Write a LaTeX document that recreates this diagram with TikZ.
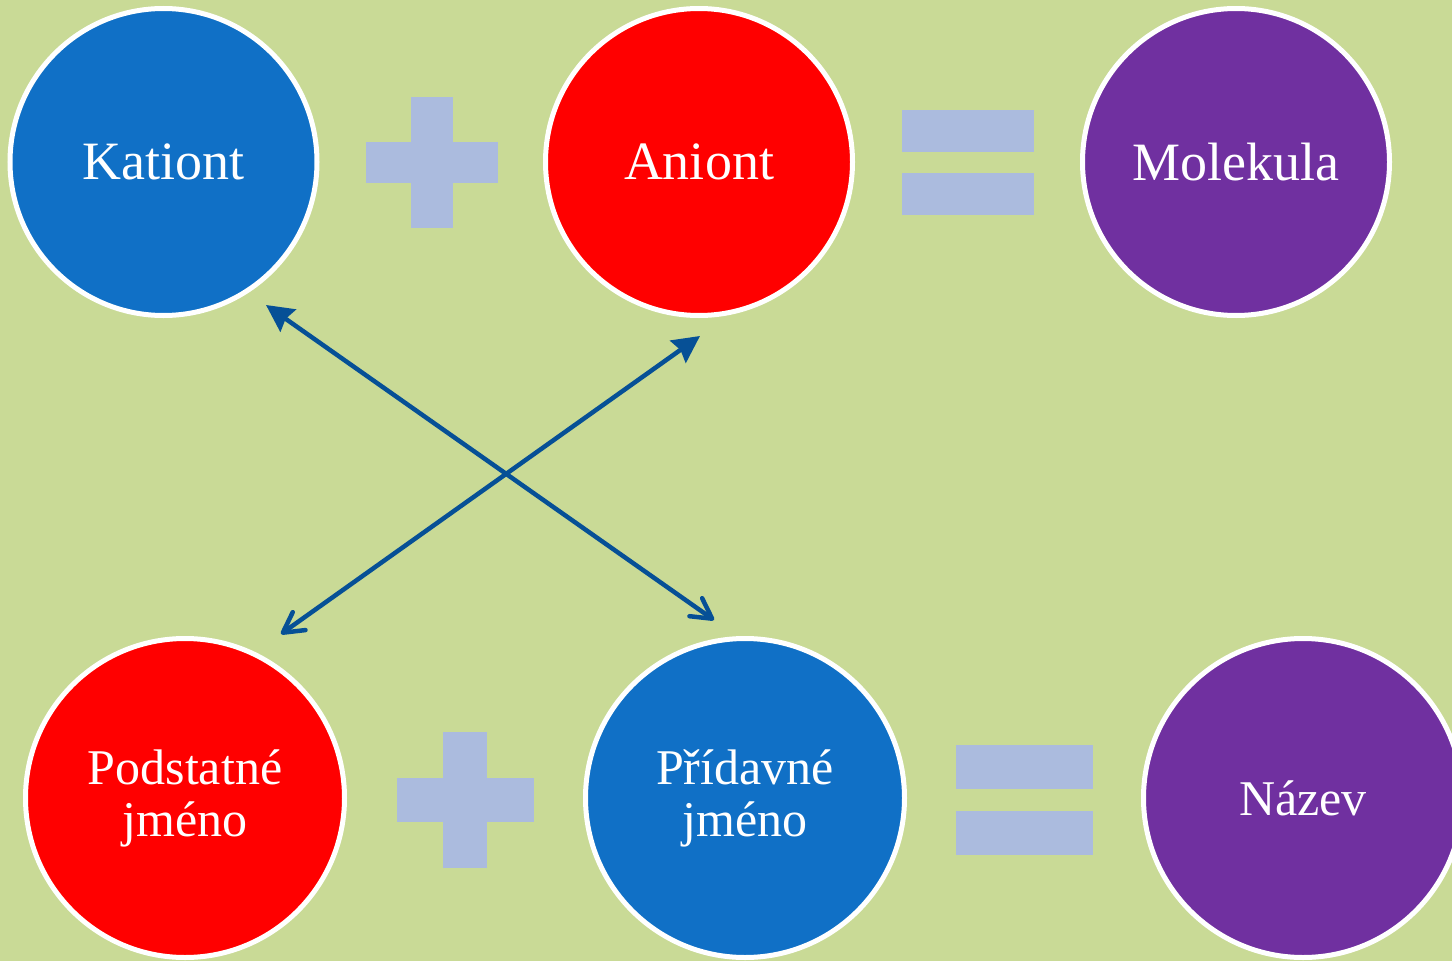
\documentclass[tikz,border=0pt]{standalone}
\usepackage{fontspec}
\setmainfont{Liberation Serif}
\usetikzlibrary{arrows.meta}
\definecolor{bgc}{HTML}{C9DA96}
\definecolor{cblue}{HTML}{1070C6}
\definecolor{cred}{HTML}{FF0000}
\definecolor{cpurple}{HTML}{7030A0}
\definecolor{opc}{HTML}{ABBBDE}
\definecolor{arrc}{HTML}{065096}
\tikzset{
  ball/.style={circle, draw=white, line width=5pt, inner sep=0pt, text=white, align=center},
  topball/.style={ball, minimum size=307pt, font=\fontsize{54}{56}\selectfont},
  botball/.style={ball, minimum size=319pt, font=\fontsize{50}{52}\selectfont},
  opbar/.style={fill=opc, draw=none},
  link/.style={draw=arrc, line width=4.5pt,
    {Straight Barb[length=20pt,width=22pt,line cap=round,line join=round]}-{Stealth[length=27pt,width=27pt,inset=3pt]}}
}
\begin{document}
\begin{tikzpicture}[x=1pt,y=-1pt]
\fill[bgc] (0,0) rectangle (1452,961);
\useasboundingbox (0,0) rectangle (1452,961);
% top row
\node[topball, fill=cblue] (kat) at (163.5,162) {Kationt};
\node[topball, fill=cred] (ani) at (699,162) {Aniont};
\node[topball, fill=cpurple] (mol) at (1236,162) {Molekula};
% bottom row
\node[botball, fill=cred] (pod) at (185,798) {Podstatné\\jméno};
\node[botball, fill=cblue] (pri) at (745,798) {Přídavné\\jméno};
\node[botball, fill=cpurple] (naz) at (1303,798) {Název};
% plus signs
\fill[opbar] (411,97) rectangle (453,228);
\fill[opbar] (366,142) rectangle (498,183);
\fill[opbar] (443,732) rectangle (487,868);
\fill[opbar] (397,778) rectangle (534,822);
% equals signs
\fill[opbar] (902,110) rectangle (1034,152);
\fill[opbar] (902,173) rectangle (1034,215);
\fill[opbar] (956,745) rectangle (1093,789);
\fill[opbar] (956,811) rectangle (1093,855);
% arrows
\coordinate (katTip) at (266,305);
\coordinate (priTip) at (714,620);
\coordinate (podTip) at (281,634);
\coordinate (aniTip) at (700,336);
\draw[link] (priTip) -- (katTip);
\draw[link] (podTip) -- (aniTip);
\end{tikzpicture}
\end{document}
